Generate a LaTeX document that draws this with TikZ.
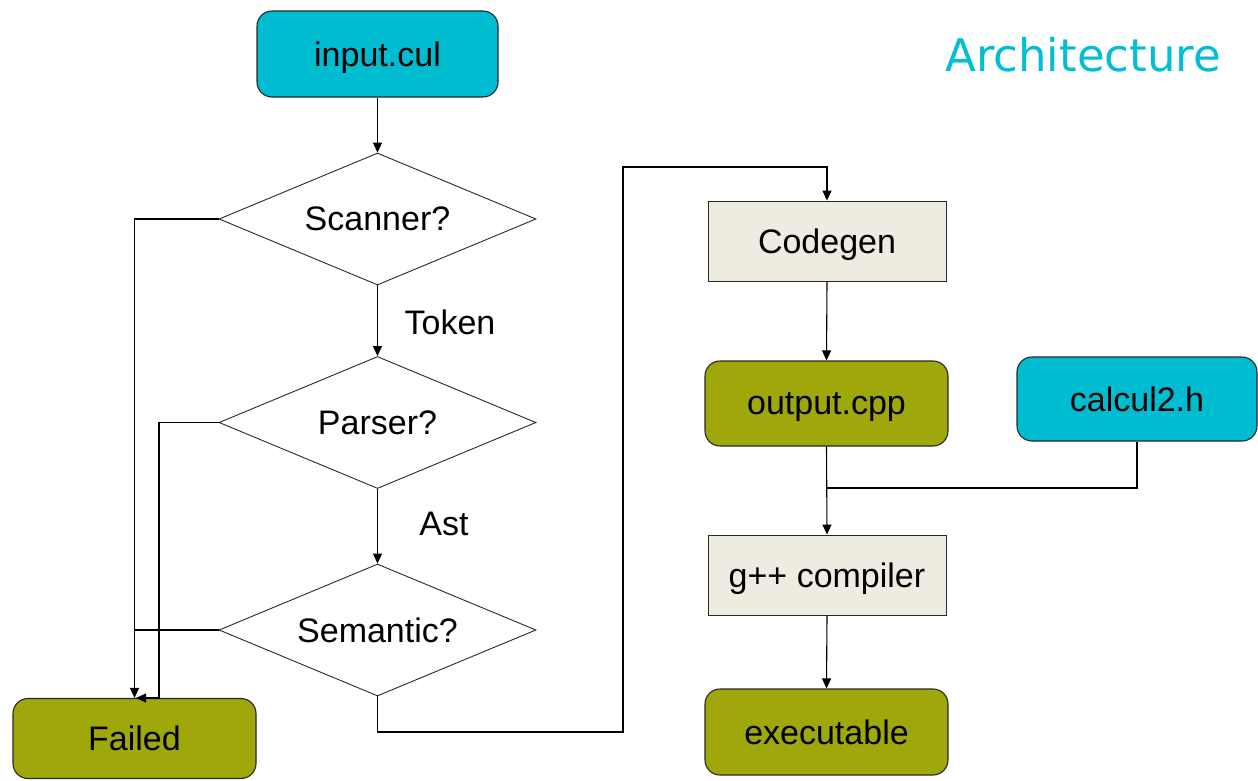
\documentclass[tikz,border=0pt]{standalone}
\usepackage{fontspec}
\setmainfont{Liberation Sans}
\newfontfamily\titlefont{DejaVu Sans}
\usetikzlibrary{shapes.geometric,arrows.meta}
\definecolor{cyanbox}{RGB}{0,188,208}
\definecolor{olivebox}{RGB}{159,167,10}
\definecolor{beigebox}{RGB}{238,235,224}
\definecolor{titlecol}{RGB}{0,190,212}
\definecolor{edge}{RGB}{40,40,40}
\begin{document}
\begin{tikzpicture}[x=1pt,y=-1pt,
  every node/.style={font=\fontsize{34}{38}\selectfont, text=black, text depth=0pt},
  rbox/.style={draw=edge, line width=1.1pt, rounded corners=15pt, inner sep=0pt},
  cyanb/.style={rbox, fill=cyanbox},
  oliveb/.style={rbox, fill=olivebox},
  procb/.style={draw=edge, line width=0.9pt, fill=beigebox, minimum width=238pt, minimum height=80pt, inner sep=0pt},
  decision/.style={diamond, draw=edge, line width=0.9pt, aspect=2.4, minimum width=317pt, minimum height=132pt, inner sep=0pt},
  conn/.style={draw=black, line width=1.1pt},
  arr/.style={conn, -{Triangle[length=10pt,width=9pt]}},
  lbl/.style={font=\fontsize{34}{38}\selectfont}
]
\useasboundingbox (0,0) rectangle (1258,780);
% nodes
\node[cyanb, minimum width=241pt, minimum height=86pt] (in) at (377.5,54) {input.cul};
\node[decision] (scan) at (377.5,219) {Scanner?};
\node[decision] (par) at (377.5,422.5) {Parser?};
\node[decision] (sem) at (377.5,630) {Semantic?};
\node[oliveb, minimum width=243pt, minimum height=80pt] (fail) at (134.5,738.5) {Failed};
\node[procb] (cg) at (827,241) {Codegen};
\node[oliveb, minimum width=243pt, minimum height=85pt] (out) at (826.5,403.5) {output.cpp};
\node[cyanb, minimum width=240pt, minimum height=84pt] (calc) at (1137,399) {calcul2.h};
\node[procb] (gpp) at (827,575) {g++ compiler};
\node[oliveb, minimum width=243pt, minimum height=86pt] (exe) at (826.5,732) {executable};
\node[lbl] (tok) at (450,322) {Token};
\node[lbl] (ast) at (444,524) {Ast};
\node[font=\titlefont\fontsize{45}{50}\selectfont, text=titlecol] (title) at (1083,54) {Architecture};
% coordinates
\coordinate (pj) at (159,698);
\coordinate (fend) at (136,698);
\coordinate (c1) at (623,732);
\coordinate (c2) at (623,167);
\coordinate (j) at (827,488);
% connectors
\draw[arr] (in.south) -- (scan.north);
\draw[arr] (scan.south) -- (par.north);
\draw[arr] (par.south) -- (sem.north);
\draw[arr] (scan.west) -| (fail.north);
\draw[arr] (par.west) -| (pj) -- (fend);
\draw[conn] (sem.west) -- (sem.west -| fail.north);
\draw[arr] (sem.south) |- (c1) -- (c2) -| (cg.north);
\draw[arr] (cg.south) -- (out.north);
\draw[arr] (out.south) -- (gpp.north);
\draw[conn] (calc.south) |- (j);
\draw[arr] (gpp.south) -- (exe.north);
\end{tikzpicture}
\end{document}
